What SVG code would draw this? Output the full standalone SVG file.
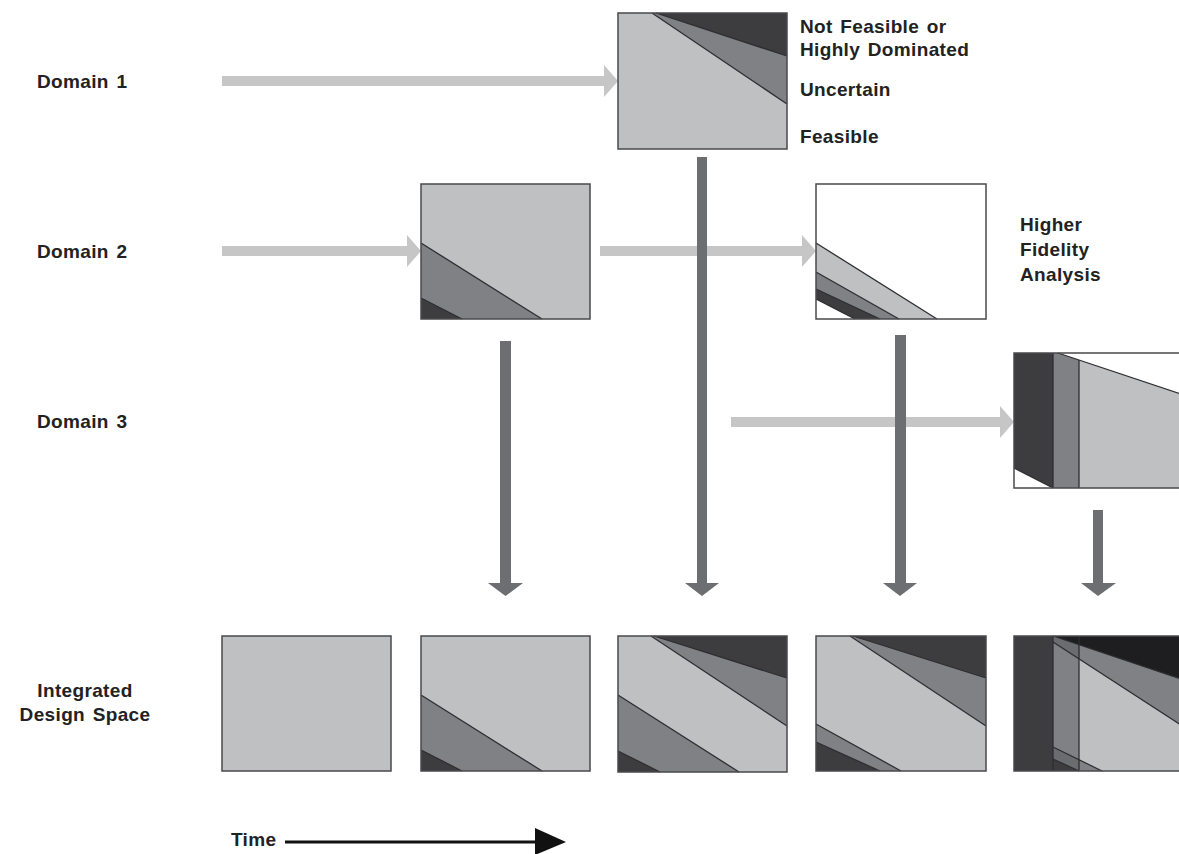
<svg xmlns="http://www.w3.org/2000/svg" width="1179" height="854" viewBox="0 0 1179 854">
<style>
.t{font-family:"Liberation Sans",Arial,sans-serif;font-weight:bold;font-size:19px;fill:#222;letter-spacing:0.35px;word-spacing:2px}
.L{fill:#bfc0c2}.M{fill:#808185}.D{fill:#3d3d40}.K{fill:#1e1e20}.W{fill:#fff}.MD{fill:#6b6c70}
.box{fill:none;stroke:#4a4a4c;stroke-width:1.5}
.ln{fill:none;stroke:#2e2e30;stroke-width:1.3}
.ha{fill:#c6c6c7}.va{fill:#6d6e71}
</style>
<rect width="1179" height="854" fill="#fff"/>
<g id="labels">
<text class="t" x="37" y="88">Domain 1</text>
<text class="t" x="37" y="258">Domain 2</text>
<text class="t" x="37" y="428">Domain 3</text>
<text class="t" x="85" y="697" text-anchor="middle">Integrated</text>
<text class="t" x="85" y="721" text-anchor="middle">Design Space</text>
<text class="t" x="800" y="33">Not Feasible or</text>
<text class="t" x="800" y="56">Highly Dominated</text>
<text class="t" x="800" y="96">Uncertain</text>
<text class="t" x="800" y="143">Feasible</text>
<text class="t" x="1020" y="231">Higher</text>
<text class="t" x="1020" y="256">Fidelity</text>
<text class="t" x="1020" y="281">Analysis</text>
<text class="t" x="231" y="846">Time</text>
</g>
<g id="connectors">
<polygon class="ha" points="222,76 604,76 604,65 618,81 604,97 604,86 222,86"/>
<polygon class="ha" points="222,246 407,246 407,235 421,251 407,267 407,256 222,256"/>
<polygon class="ha" points="600,246 802,246 802,235 816,251 802,267 802,256 600,256"/>
<polygon class="ha" points="731,417 1000,417 1000,406 1014,422 1000,438 1000,427 731,427"/>
<polygon class="va" points="500,341 511,341 511,583 523,583 505.5,596 488,583 500,583"/>
<polygon class="va" points="697,157 707,157 707,583 719,583 702,596 685,583 697,583"/>
<polygon class="va" points="895,335 906,335 906,583 917,583 900,596 883,583 895,583"/>
<polygon class="va" points="1093,510 1103,510 1103,583 1116,583 1098,596 1081,583 1093,583"/>
<line x1="285" y1="842" x2="537" y2="842" stroke="#111" stroke-width="3"/>
<polygon points="535,828 566,842 535,855" fill="#111"/>
</g>
<g id="d1">
<rect class="L" x="618" y="13" width="169" height="136"/>
<polygon class="M" points="652,13 787,13 787,104"/>
<polygon class="D" points="656,13 787,13 787,56"/>
<polyline class="ln" points="652,13 787,104"/>
<polyline class="ln" points="656,13 787,56"/>
<rect class="box" x="618" y="13" width="169" height="136"/>
</g>
<g id="d2a">
<rect class="L" x="421" y="184" width="169" height="135"/>
<polygon class="M" points="421,243 542,319 421,319"/>
<polygon class="D" points="421,298 462,319 421,319"/>
<polyline class="ln" points="421,243 542,319"/>
<polyline class="ln" points="421,298 462,319"/>
<rect class="box" x="421" y="184" width="169" height="135"/>
</g>
<g id="d2b">
<rect class="W" x="816" y="184" width="170" height="135"/>
<polygon class="L" points="816,243 937,319 855,319 816,299"/>
<polygon class="M" points="816,272 899,319 855,319 816,299"/>
<polygon class="D" points="816,289 880,319 855,319 816,299"/>
<polyline class="ln" points="816,243 937,319"/>
<polyline class="ln" points="816,272 899,319"/>
<polyline class="ln" points="816,289 880,319"/>
<polyline class="ln" points="816,299 855,319"/>
<rect class="box" x="816" y="184" width="170" height="135"/>
</g>
<g id="d3">
<rect class="W" x="1014" y="353" width="170" height="135"/>
<polygon class="D" points="1014,353 1053,353 1053,488 1014,468"/>
<polygon class="M" points="1053,353 1058,353 1079,360 1079,488 1053,488"/>
<polygon class="L" points="1079,360 1184,395 1184,488 1079,488"/>
<line class="ln" x1="1053" y1="353" x2="1053" y2="488"/>
<line class="ln" x1="1079" y1="360" x2="1079" y2="488"/>
<polyline class="ln" points="1058,353 1184,395"/>
<polyline class="ln" points="1014,468 1053,488"/>
<polyline class="box" points="1184,353 1014,353 1014,488 1184,488"/>
</g>
<g id="i1">
<rect class="L" x="222" y="636" width="169" height="135"/>
<rect class="box" x="222" y="636" width="169" height="135"/>
</g>
<g id="i2">
<rect class="L" x="421" y="636" width="169" height="135"/>
<polygon class="M" points="421,695 542,771 421,771"/>
<polygon class="D" points="421,750 462,771 421,771"/>
<polyline class="ln" points="421,695 542,771"/>
<polyline class="ln" points="421,750 462,771"/>
<rect class="box" x="421" y="636" width="169" height="135"/>
</g>
<g id="i3">
<rect class="L" x="618" y="636" width="169" height="136"/>
<polygon class="M" points="651,636 787,636 787,726"/>
<polygon class="D" points="654,636 787,636 787,678"/>
<polygon class="M" points="618,695 739,772 618,772"/>
<polygon class="D" points="618,751 660,772 618,772"/>
<polyline class="ln" points="651,636 787,726"/>
<polyline class="ln" points="654,636 787,678"/>
<polyline class="ln" points="618,695 739,772"/>
<polyline class="ln" points="618,751 660,772"/>
<rect class="box" x="618" y="636" width="169" height="136"/>
</g>
<g id="i4">
<rect class="L" x="816" y="636" width="170" height="135"/>
<polygon class="M" points="850,636 986,636 986,726"/>
<polygon class="D" points="853,636 986,636 986,678"/>
<polygon class="M" points="816,724 901,771 816,771"/>
<polygon class="D" points="816,742 880,771 816,771"/>
<polyline class="ln" points="850,636 986,726"/>
<polyline class="ln" points="853,636 986,678"/>
<polyline class="ln" points="816,724 901,771"/>
<polyline class="ln" points="816,742 880,771"/>
<rect class="box" x="816" y="636" width="170" height="135"/>
</g>
<g id="i5">
<rect class="L" x="1014" y="636" width="170" height="135"/>
<rect class="D" x="1014" y="636" width="39" height="135"/>
<polygon class="M" points="1053,636 1079,636 1079,771 1053,771"/>
<polygon class="M" points="1079,636 1184,636 1184,727 1079,659"/>
<polygon class="K" points="1053,636 1184,636 1184,680"/>
<polygon class="MD" points="1053,636 1079,645 1079,659 1053,642"/>
<polygon class="MD" points="1053,747 1079,760 1079,771 1053,759"/>
<polygon class="D" points="1053,759 1079,771 1053,771"/>
<polygon class="M" points="1079,760 1102,771 1079,771"/>
<line class="ln" x1="1053" y1="636" x2="1053" y2="771"/>
<line class="ln" x1="1079" y1="636" x2="1079" y2="771"/>
<polyline class="ln" points="1053,636 1184,680"/>
<polyline class="ln" points="1053,642 1184,727"/>
<polyline class="ln" points="1053,747 1102,771"/>
<polyline class="ln" points="1053,759 1079,771"/>
<polyline class="box" points="1184,636 1014,636 1014,771 1184,771"/>
</g>
</svg>
